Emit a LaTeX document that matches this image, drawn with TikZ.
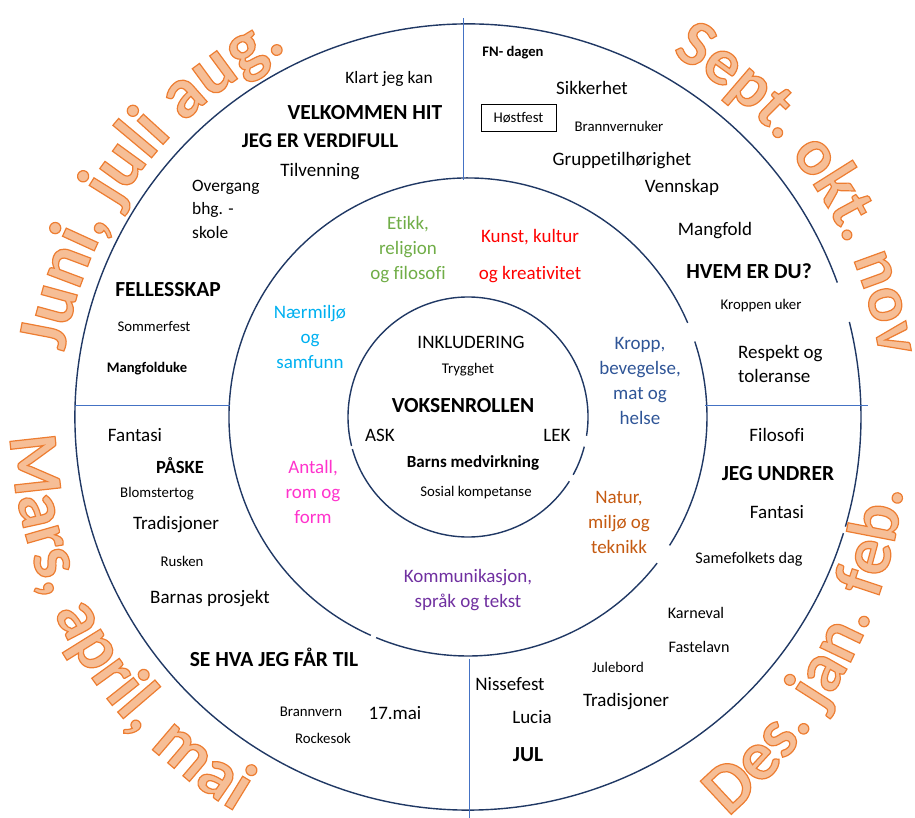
\documentclass[tikz,border=0pt]{standalone}
\usepackage{fontspec}
\setmainfont{Carlito}[Ligatures=CommonOff]
\usetikzlibrary{decorations.text}
\definecolor{sirkel}{RGB}{32,56,100}
\definecolor{skillelinje}{RGB}{68,114,196}
\definecolor{etikk}{RGB}{112,173,71}
\definecolor{kunst}{RGB}{255,0,0}
\definecolor{naermiljo}{RGB}{0,176,240}
\definecolor{kropp}{RGB}{47,85,151}
\definecolor{antall}{RGB}{255,51,204}
\definecolor{natur}{RGB}{197,90,17}
\definecolor{kommunikasjon}{RGB}{112,48,160}
\definecolor{maanedfyll}{RGB}{246,190,150}
\newcommand{\maanedfont}[1]{\fontsize{#1}{#1}\selectfont\bfseries\color{maanedfyll}\special{pdf:literal direct 2 Tr 1.2 w 0.929 0.490 0.192 RG}}

\begin{document}
\begin{tikzpicture}[x=1pt,y=1pt]
	\tikzstyle{ring}=[draw=sirkel,line width=1.4pt]
	\tikzstyle{skille}=[draw=skillelinje,line width=0.9pt]
	\tikzstyle{vanlig}=[inner sep=0pt,font=\fontsize{19}{25}\selectfont]
	\tikzstyle{mellom}=[inner sep=0pt,font=\fontsize{17.4}{23.5}\selectfont]
	\tikzstyle{liten}=[inner sep=0pt,font=\fontsize{14.8}{18}\selectfont]
	\tikzstyle{litenfet}=[inner sep=0pt,font=\fontsize{14.6}{18}\selectfont\bfseries]
	\tikzstyle{tittel}=[inner sep=0pt,font=\fontsize{21.5}{26}\selectfont\bfseries]
	\tikzstyle{fag}=[inner sep=0pt,align=center,font=\fontsize{19}{25}\selectfont]
	\useasboundingbox (0,0) rectangle (915,818);
	\coordinate (M) at (468,401);
	\coordinate (D) at (397.7,388.5);
	
	\draw[ring] ([shift={(20:393)}]M) arc[start angle=20,end angle=342.8,radius=393];
	\draw[ring] ([shift={(-16.2:393)}]M) arc[start angle=-16.2,end angle=14,radius=393];
	\draw[ring] ([shift={(23.2:239)}]M) arc[start angle=23.2,end angle=246,radius=239];
	\draw[ring] ([shift={(247.4:239)}]M) arc[start angle=247.4,end angle=322.3,radius=239];
	\draw[ring] ([shift={(-32.5:239)}]M) arc[start angle=-32.5,end angle=18.4,radius=239];
	\draw[ring] ([shift={(-9:120)}]M) arc[start angle=-9,end angle=194,radius=120];
	\draw[ring] ([shift={(195.5:120)}]M) arc[start angle=195.5,end angle=327.6,radius=120];
	\draw[ring] ([shift={(-28.8:120)}]M) arc[start angle=-28.8,end angle=-14.3,radius=120];
	
	\draw[skille] (463,800) -- (463,638);
	\draw[skille] (469,159) -- (469,0);
	\draw[skille] (75,413) -- (230,413);
	\draw[skille] (705,413) -- (868,413);
	
	\node[mellom] (klart) at (389,739){Klart jeg kan};
	\node[tittel] (velkommen) at (365,705){VELKOMMEN HIT};
	\node[tittel,font=\fontsize{21}{26}\selectfont\bfseries] (verdifull) at (320,677){JEG ER VERDIFULL};
	\node[vanlig] (tilvenning) at (320,646){Tilvenning};
	\node[mellom,align=left,anchor=west] (overgang) at (192,609){Overgang\\bhg. -\\skole};
	\node[tittel] (fellesskap) at (168,528){FELLESSKAP};
	\node[liten] (sommerfest) at (154,492){Sommerfest};
	\node[litenfet] (mangfolduke) at (147,449){Mangfolduke};
	
	\node[litenfet] (fndagen) at (513,765){FN- dagen};
	\node[vanlig] (sikkerhet) at (592,730){Sikkerhet};
	\node[liten,draw,line width=0.8pt,minimum width=75pt,minimum height=27pt] (hostfest) at (518.5,700.5){Høstfest};
	\node[liten] (brannvernuker) at (619,692){Brannvernuker};
	\node[vanlig] (gruppe) at (622,657){Gruppetilhørighet};
	\node[vanlig] (vennskap) at (682,631){Vennskap};
	\node[vanlig] (mangfold) at (715,587){Mangfold};
	\node[tittel] (hvem) at (749,547){HVEM ER DU?};
	\node[liten] (kroppenuker) at (761,512){Kroppen uker};
	\node[vanlig,align=left,anchor=west,font=\fontsize{19}{24}\selectfont] (respekt) at (738,454){Respekt og\\toleranse};
	
	\node[fag,text=etikk] (etikkfag) at (408,568){Etikk,\\religion\\og filosofi};
	\node[fag,text=kunst,font=\fontsize{19}{37}\selectfont] (kunstfag) at (530,561.5){Kunst, kultur\\og kreativitet};
	\node[fag,text=naermiljo] (naermiljofag) at (310,481){Nærmiljø\\og\\samfunn};
	\node[fag,text=kropp] (kroppfag) at (640,437.5){Kropp,\\bevegelse,\\mat og\\helse};
	\node[fag,text=antall] (antallfag) at (313,326){Antall,\\rom og\\form};
	\node[fag,text=natur] (naturfag) at (619,296){Natur,\\miljø og\\teknikk};
	\node[fag,text=kommunikasjon] (kommunikasjonfag) at (468,227.5){Kommunikasjon,\\språk og tekst};
	
	\node[vanlig] (inkludering) at (471,476){INKLUDERING};
	\node[liten] (trygghet) at (468,448){Trygghet};
	\node[tittel] (voksenrollen) at (463,412){VOKSENROLLEN};
	\node[vanlig] (ask) at (380,383){ASK};
	\node[vanlig] (lek) at (557,383){LEK};
	\node[litenfet,font=\fontsize{17}{20}\selectfont\bfseries] (barns) at (473,355){Barns medvirkning};
	\node[liten] (sosial) at (476,325){Sosial kompetanse};
	
	\node[vanlig] (fantasi1) at (135,383){Fantasi};
	\node[tittel,font=\fontsize{18.6}{22}\selectfont\bfseries] (paaske) at (180,352){PÅSKE};
	\node[liten] (blomstertog) at (157,324){Blomstertog};
	\node[vanlig] (tradisjoner1) at (176,293){Tradisjoner};
	\node[liten] (rusken) at (182,257){Rusken};
	\node[vanlig] (barnas) at (210,219){Barnas prosjekt};
	\node[tittel] (sehva) at (274,161){SE HVA JEG FÅR TIL};
	\node[liten] (brannvern) at (311,106){Brannvern};
	\node[vanlig] (mai) at (395,105){17.mai};
	\node[liten] (rockesok) at (323,80){Rockesok};
	
	\node[vanlig] (filosofi) at (777,383){Filosofi};
	\node[tittel] (undrer) at (778,344){JEG UNDRER};
	\node[vanlig] (fantasi2) at (777,306){Fantasi};
	\node[liten,font=\fontsize{16.2}{20}\selectfont] (samefolkets) at (749,259){Samefolkets dag};
	\node[liten,font=\fontsize{16.1}{20}\selectfont] (karneval) at (696,205){Karneval};
	\node[liten,font=\fontsize{16.1}{20}\selectfont] (fastelavn) at (699,171){Fastelavn};
	\node[liten] (julebord) at (618,151){Julebord};
	\node[vanlig] (nissefest) at (510,134){Nissefest};
	\node[vanlig] (tradisjoner2) at (626,116){Tradisjoner};
	\node[vanlig] (lucia) at (532,101){Lucia};
	\node[tittel] (jul) at (528,63){JUL};
	
	\path[decorate,decoration={text along path,text align=center,text={|\maanedfont{72}|Juni, juli aug.}}] ([shift={(174:409)}]M) arc[start angle=174,end angle=113,radius=409];
	\path[decorate,decoration={text along path,text align=center,text={|\maanedfont{66}|Sept. okt. nov}}] ([shift={(64:416)}]M) arc[start angle=64,end angle=5,radius=416];
	\path[decorate,decoration={text along path,text align=center,text={|\maanedfont{70}|Mars, april, mai}}] ([shift={(180:458)}]M) arc[start angle=180,end angle=242,radius=458];
	\path[decorate,decoration={text along path,text align=center,text={|\maanedfont{70}|Des. jan. feb.}}] ([shift={(-52:509)}]D) arc[start angle=-52,end angle=-4.3,radius=509];
\end{tikzpicture}
\end{document}
